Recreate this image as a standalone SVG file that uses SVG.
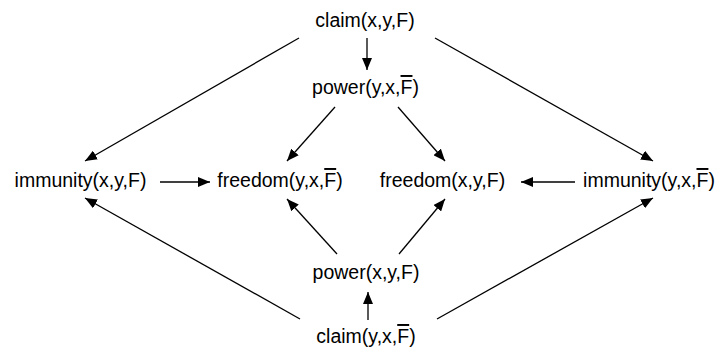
<svg xmlns="http://www.w3.org/2000/svg" width="721" height="351" viewBox="0 0 721 351">
<defs>
<style>
text{font-family:"Liberation Sans",Arial,Helvetica,sans-serif;font-size:19.5px;fill:#000;text-anchor:middle}
.ob{text-decoration:overline}
line{stroke:#000;stroke-width:1.3;fill:none}
</style>
<marker id="ah" markerWidth="13" markerHeight="10" refX="12" refY="5" orient="auto" markerUnits="userSpaceOnUse">
<path d="M0,0 L12,5 L0,10 Z" fill="#000"/>
</marker>
</defs>
<rect width="721" height="351" fill="#fff"/>
<g id="connectors">
<line x1="367" y1="38" x2="367" y2="70" marker-end="url(#ah)"/>
<line x1="368" y1="320" x2="368" y2="292" marker-end="url(#ah)"/>
<line x1="160" y1="182" x2="210" y2="182" marker-end="url(#ah)"/>
<line x1="575" y1="182" x2="521" y2="182" marker-end="url(#ah)"/>
<line x1="299" y1="38" x2="85" y2="161" marker-end="url(#ah)"/>
<line x1="435" y1="38" x2="653" y2="161" marker-end="url(#ah)"/>
<line x1="335" y1="107" x2="287" y2="161" marker-end="url(#ah)"/>
<line x1="398" y1="107" x2="445" y2="161" marker-end="url(#ah)"/>
<line x1="337" y1="254" x2="287" y2="199" marker-end="url(#ah)"/>
<line x1="399" y1="254" x2="445" y2="199" marker-end="url(#ah)"/>
<line x1="300" y1="319" x2="85" y2="198" marker-end="url(#ah)"/>
<line x1="437" y1="319" x2="653" y2="198" marker-end="url(#ah)"/>
</g>
<g id="claim-xyF"><text x="365" y="27">claim(x,y,F)</text></g>
<g id="power-yxFbar"><text x="365.5" y="94">power(y,x,<tspan class="ob">F</tspan>)</text></g>
<g id="immunity-xyF"><text x="80.5" y="187">immunity(x,y,F)</text></g>
<g id="freedom-yxFbar"><text x="280" y="187">freedom(y,x,<tspan class="ob">F</tspan>)</text></g>
<g id="freedom-xyF"><text x="442.5" y="187">freedom(x,y,F)</text></g>
<g id="immunity-yxFbar"><text x="649" y="187">immunity(y,x,<tspan class="ob">F</tspan>)</text></g>
<g id="power-xyF"><text x="366" y="279">power(x,y,F)</text></g>
<g id="claim-yxFbar"><text x="366" y="343">claim(y,x,<tspan class="ob">F</tspan>)</text></g>
</svg>
